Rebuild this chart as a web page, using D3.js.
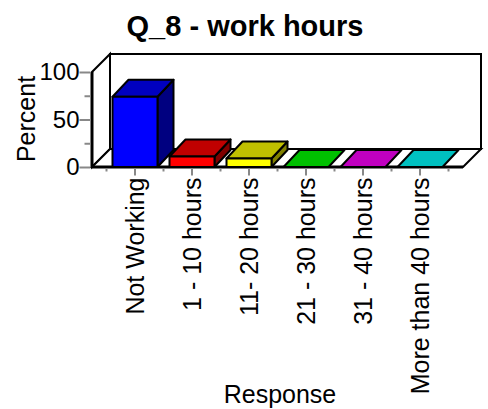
<!DOCTYPE html>
<html>
<head>
<meta charset="utf-8">
<script src="https://cdn.jsdelivr.net/npm/d3@7"></script>
<style>
  body { margin: 0; background: #fff; }
  text { font-family: "Liberation Sans", Arial, sans-serif; fill: #000; }
</style>
</head>
<body>
<div id="chart"></div>
<script>
// data
const categories = ["Not Working", "1 - 10 hours", "11- 20 hours", "21 - 30 hours", "31 - 40 hours", "More than 40 hours"];
const percents = [74, 11, 9, 0, 0, 0];
const yMajorTicks = [0, 50, 100];
const yMinorTicks = [25, 75];

const W = 488, H = 409;
// front plane of the 3d box
const plot = { left: 92, right: 463, top: 72, bottom: 167 };
const depth = { dx: 18, dy: -18 };     // box depth
const barDepth = { dx: 16, dy: -17 };  // bar depth
const barWidth = 45;

const svg = d3.select("#chart")
  .append("svg")
  .attr("width", W)
  .attr("height", H);

const x = d3.scaleBand()
  .domain(categories)
  .range([plot.left + 14.5, plot.right - 14.5]);

const y = d3.scaleLinear()
  .domain([0, 100])
  .range([plot.bottom, plot.top]);

const front = d3.scaleOrdinal().domain(categories)
  .range(["#0000ff", "#ff0000", "#ffff00", "#00ff00", "#ff00ff", "#00ffff"]);
const topC = d3.scaleOrdinal().domain(categories)
  .range(["#0000c0", "#c00000", "#c0c000", "#00c000", "#c000c0", "#00c0c0"]);
const sideC = d3.scaleOrdinal().domain(categories)
  .range(["#000080", "#800000", "#808000", "#008000", "#800080", "#008080"]);

const poly = pts => "M" + pts.map(p => p.join(",")).join("L") + "Z";

// back wall
const bx0 = plot.left + depth.dx, bx1 = plot.right + depth.dx;
const by0 = plot.top + depth.dy, by1 = plot.bottom + depth.dy;
svg.append("path")
  .attr("d", poly([[bx0, by0], [bx1, by0], [bx1, by1], [bx0, by1]]))
  .attr("fill", "#fff").attr("stroke", "#000").attr("stroke-width", 2);

// left wall
svg.append("path")
  .attr("d", poly([[plot.left, plot.top], [bx0, by0], [bx0, by1], [plot.left, plot.bottom]]))
  .attr("fill", "#fff").attr("stroke", "#000").attr("stroke-width", 2);

// floor
svg.append("path")
  .attr("d", poly([[plot.left, plot.bottom], [bx0, by1], [bx1, by1], [plot.right, plot.bottom]]))
  .attr("fill", "#fff").attr("stroke", "#000").attr("stroke-width", 2);

// thick front edges
svg.append("line")
  .attr("x1", plot.left).attr("x2", plot.right)
  .attr("y1", plot.bottom).attr("y2", plot.bottom)
  .attr("stroke", "#000").attr("stroke-width", 3);
svg.append("line")
  .attr("x1", plot.left).attr("x2", plot.left)
  .attr("y1", plot.top).attr("y2", plot.bottom + 1)
  .attr("stroke", "#000").attr("stroke-width", 3);

// y axis ticks
const yAxis = svg.append("g")
  .attr("transform", `translate(${plot.left - 1.5},0)`)
  .call(d3.axisLeft(y).tickValues(yMajorTicks).tickSize(11).tickPadding(0));
yAxis.select(".domain").remove();
yAxis.selectAll("line").attr("stroke", "#888").attr("stroke-width", 2);
yAxis.selectAll("text").style("font-size", "24px").attr("fill", "#000");

const yMinor = svg.append("g")
  .attr("transform", `translate(${plot.left - 1.5},0)`)
  .call(d3.axisLeft(y).tickValues(yMinorTicks).tickSize(6).tickFormat(""));
yMinor.select(".domain").remove();
yMinor.selectAll("line").attr("stroke", "#888").attr("stroke-width", 2);

// x axis ticks + labels
const xAxis = svg.append("g")
  .attr("transform", `translate(0,${plot.bottom + 1.5})`)
  .call(d3.axisBottom(x).tickSize(7).tickSizeOuter(0));
xAxis.select(".domain").remove();
xAxis.selectAll("line").attr("stroke", "#888").attr("stroke-width", 2);
xAxis.selectAll("text")
  .attr("transform", "rotate(-90)")
  .attr("x", -9)
  .attr("y", 0)
  .attr("dy", "0.36em")
  .style("text-anchor", "end")
  .style("font-size", "25px")
  .attr("fill", "#000");

const edges = categories.map(c => x(c)).concat([x.range()[1]]);
svg.append("g").selectAll("line")
  .data(edges)
  .join("line")
  .attr("x1", d => d).attr("x2", d => d)
  .attr("y1", plot.bottom + 1.5).attr("y2", plot.bottom + 4.5)
  .attr("stroke", "#888").attr("stroke-width", 2);

// bars
const bars = categories.map((c, i) => {
  const x0 = x(c) + (x.bandwidth() - barWidth) / 2;
  return { c, v: percents[i], x0, x1: x0 + barWidth, y0: y(0), y1: y(percents[i]) };
});

const g = svg.append("g").attr("stroke", "#000").attr("stroke-width", 2).attr("stroke-linejoin", "round");

g.selectAll(".side")
  .data(bars.filter(d => d.v > 0))
  .join("path")
  .attr("class", "side")
  .attr("fill", d => sideC(d.c))
  .attr("d", d => poly([[d.x1, d.y0], [d.x1, d.y1], [d.x1 + barDepth.dx, d.y1 + barDepth.dy], [d.x1 + barDepth.dx, d.y0 + barDepth.dy]]));

g.selectAll(".top")
  .data(bars)
  .join("path")
  .attr("class", "top")
  .attr("fill", d => topC(d.c))
  .attr("d", d => poly([[d.x0, d.y1], [d.x1, d.y1], [d.x1 + barDepth.dx, d.y1 + barDepth.dy], [d.x0 + barDepth.dx, d.y1 + barDepth.dy]]));

g.selectAll(".front")
  .data(bars.filter(d => d.v > 0))
  .join("path")
  .attr("class", "front")
  .attr("fill", d => front(d.c))
  .attr("d", d => poly([[d.x0, d.y0], [d.x0, d.y1], [d.x1, d.y1], [d.x1, d.y0]]));

// titles
svg.append("text")
  .attr("x", 245)
  .attr("y", 36)
  .attr("text-anchor", "middle")
  .style("font-size", "29px")
  .style("font-weight", "bold")
  .text("Q_8 - work hours");

svg.append("text")
  .attr("transform", "translate(35,119) rotate(-90)")
  .attr("text-anchor", "middle")
  .style("font-size", "25px")
  .text("Percent");

svg.append("text")
  .attr("x", 280)
  .attr("y", 403)
  .attr("text-anchor", "middle")
  .style("font-size", "25px")
  .text("Response");
</script>
</body>
</html>
